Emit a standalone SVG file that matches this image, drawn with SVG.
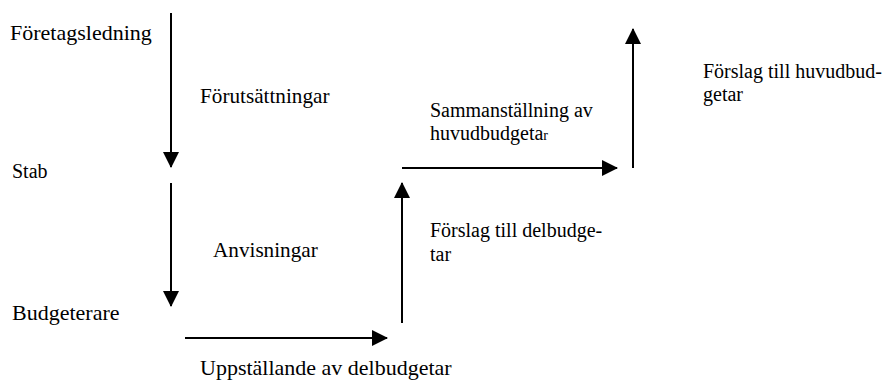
<svg xmlns="http://www.w3.org/2000/svg" width="894" height="380" viewBox="0 0 894 380">
  <defs>
    <marker id="head" markerWidth="16" markerHeight="16" viewBox="0 0 16 16" refX="15" refY="8" orient="auto" markerUnits="userSpaceOnUse">
      <path d="M0,0 L16,8 L0,16 Z" fill="#000"/>
    </marker>
  </defs>
  <style>
    .lbl text { font-family: "Liberation Serif", "Times New Roman", "DejaVu Serif", serif; font-size: 20px; fill: #000; }
    .lbl text.big { font-size: 22px; }
    .lbl text.mid { font-size: 21.2px; }
    .arrow { stroke: #000; stroke-width: 2; fill: none; marker-end: url(#head); }
  </style>
  <rect width="894" height="380" fill="#fff"/>

  <!-- flow arrows: down through the hierarchy, then up again with the budgets -->
  <g id="connectors">
    <line class="arrow" x1="171" y1="13" x2="171" y2="167"/>
    <line class="arrow" x1="171" y1="183" x2="171" y2="306"/>
    <line class="arrow" x1="185" y1="338" x2="387" y2="338"/>
    <line class="arrow" x1="402" y1="323" x2="402" y2="183"/>
    <line class="arrow" x1="402" y1="168" x2="617" y2="168"/>
    <line class="arrow" x1="633" y1="168" x2="633" y2="29"/>
  </g>

  <g class="lbl">
    <g id="foretagsledning"><text class="big" x="10" y="40">Företagsledning</text></g>
    <g id="stab"><text x="12" y="178">Stab</text></g>
    <g id="budgeterare"><text class="big" x="12" y="320">Budgeterare</text></g>

    <g id="forutsattningar"><text class="mid" x="200" y="103">Förutsättningar</text></g>
    <g id="anvisningar"><text class="mid" x="213" y="257">Anvisningar</text></g>
    <g id="uppstallande"><text class="big" x="200" y="375">Uppställande av delbudgetar</text></g>
    <g id="forslag-delbudgetar">
      <text x="430" y="237">Förslag till delbudge-</text>
      <text x="430" y="261">tar</text>
    </g>
    <g id="sammanstallning">
      <text x="430" y="117">Sammanställning av</text>
      <text x="430" y="140">huvudbudgeta<tspan font-size="14">r</tspan></text>
    </g>
    <g id="forslag-huvudbudgetar">
      <text x="703" y="78">Förslag till huvudbud-</text>
      <text x="703" y="101">getar</text>
    </g>
  </g>
</svg>
